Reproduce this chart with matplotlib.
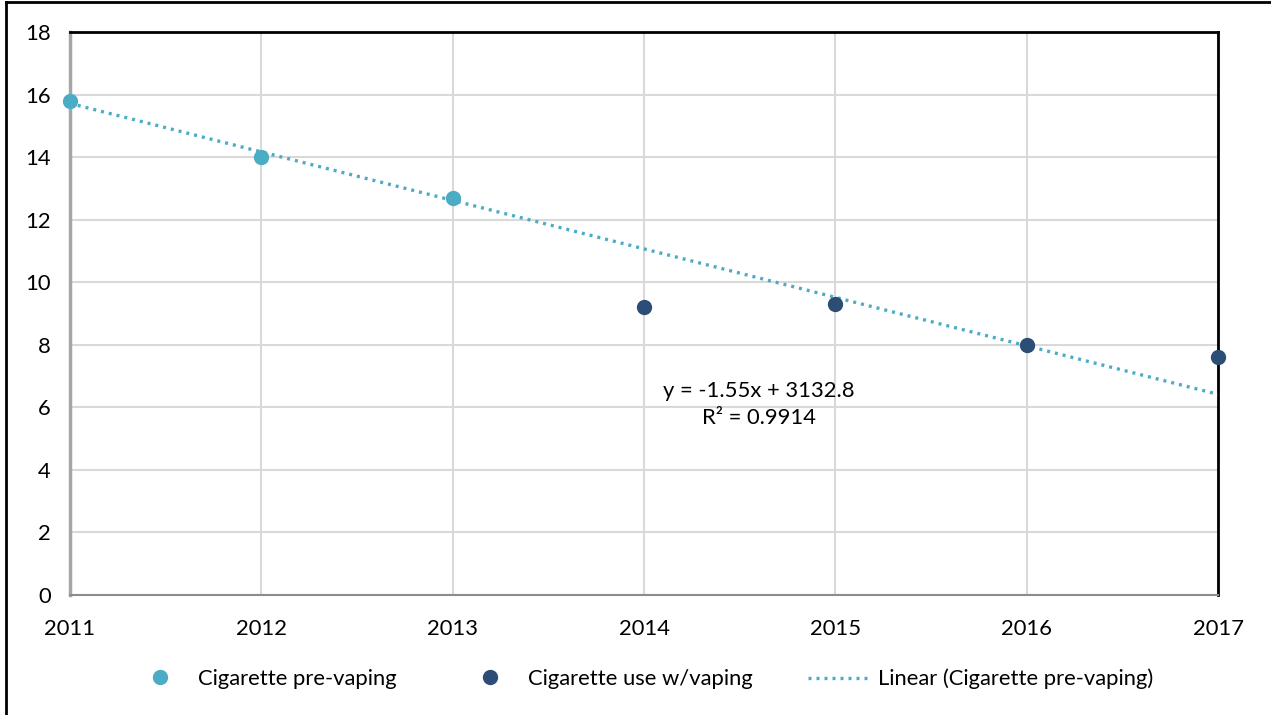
import numpy as np
import matplotlib.pyplot as plt
from matplotlib.lines import Line2D

# data
tahun_pre = [2011, 2012, 2013]
nilai_pre = [15.8, 14.0, 12.7]
tahun_vape = [2014, 2015, 2016, 2017]
nilai_vape = [9.2, 9.3, 8.0, 7.6]
label_pre = 'Cigarette pre-vaping'
label_vape = 'Cigarette use w/vaping'
label_tren = 'Linear (Cigarette pre-vaping)'

warna_muda = '#4BACC6'
warna_tua = '#2C4D76'
ukuran = 15.8

plt.rcParams['font.family'] = ['Lato', 'DejaVu Sans']

fig = plt.figure(figsize=(12.71, 7.15), dpi=100)
ax = fig.add_axes([70/1271, 1-595/715, (1218-70)/1271, (595-32)/715])

# trendline dari data pre-vaping
slope, intercept = np.polyfit(tahun_pre, nilai_pre, 1)
prediksi = np.polyval([slope, intercept], tahun_pre)
ss_res = np.sum((np.array(nilai_pre) - prediksi)**2)
ss_tot = np.sum((np.array(nilai_pre) - np.mean(nilai_pre))**2)
r2 = 1 - ss_res/ss_tot
xt = np.array([2011, 2017])
ax.plot(xt, slope*xt + intercept, color=warna_muda, lw=2.4, ls=(0, (0.9, 1.5)),
        label=label_tren, zorder=3)

ax.plot(tahun_pre, nilai_pre, 'o', color=warna_muda, ms=10, label=label_pre,
        clip_on=False, zorder=4)
ax.plot(tahun_vape, nilai_vape, 'o', color=warna_tua, ms=10, label=label_vape,
        clip_on=False, zorder=4)

ax.text(2014.6, 6.1, 'y = %.2fx + %.1f\nR² = %.4f' % (slope, intercept, r2),
        ha='center', va='center', fontsize=ukuran, linespacing=1.45)

ax.set_xlim(2011, 2017)
ax.set_ylim(0, 18)
ax.set_xticks(range(2011, 2018))
ax.set_yticks(range(0, 19, 2))
ax.grid(True, color='#D9D9D9', lw=1.5)
ax.set_axisbelow(True)
ax.tick_params(length=0, labelsize=ukuran, colors='black')
ax.tick_params(axis='x', pad=17)
ax.tick_params(axis='y', pad=14)

ax.spines['left'].set_color('#A6A6A6')
ax.spines['left'].set_linewidth(2.5)
ax.spines['bottom'].set_color('#8C8C8C')
ax.spines['bottom'].set_linewidth(1.5)
ax.spines['top'].set_color('black')
ax.spines['top'].set_linewidth(2)
ax.spines['right'].set_color('black')
ax.spines['right'].set_linewidth(2)

# legenda, satu per entri supaya jaraknya mirip aslinya
h, l = ax.get_legend_handles_labels()
posisi_legenda = [(133, 1, 2.5), (463, 2, 2.5), (808, 0, 2.75)]
y_leg = 1 - 679/715
for px, i, hl in posisi_legenda:
    fig.legend([h[i]], [l[i]], loc='center left',
               bbox_to_anchor=(px/1271, y_leg), frameon=False,
               fontsize=ukuran, handlelength=hl, handletextpad=0.45,
               borderpad=0, borderaxespad=0)

# bingkai luar
fig.add_artist(Line2D([6/1271, 6/1271], [0, 1-2/715], color='black', lw=2))
fig.add_artist(Line2D([6/1271, 1], [1-2/715, 1-2/715], color='black', lw=2))

fig.savefig('out.png', dpi=100)
